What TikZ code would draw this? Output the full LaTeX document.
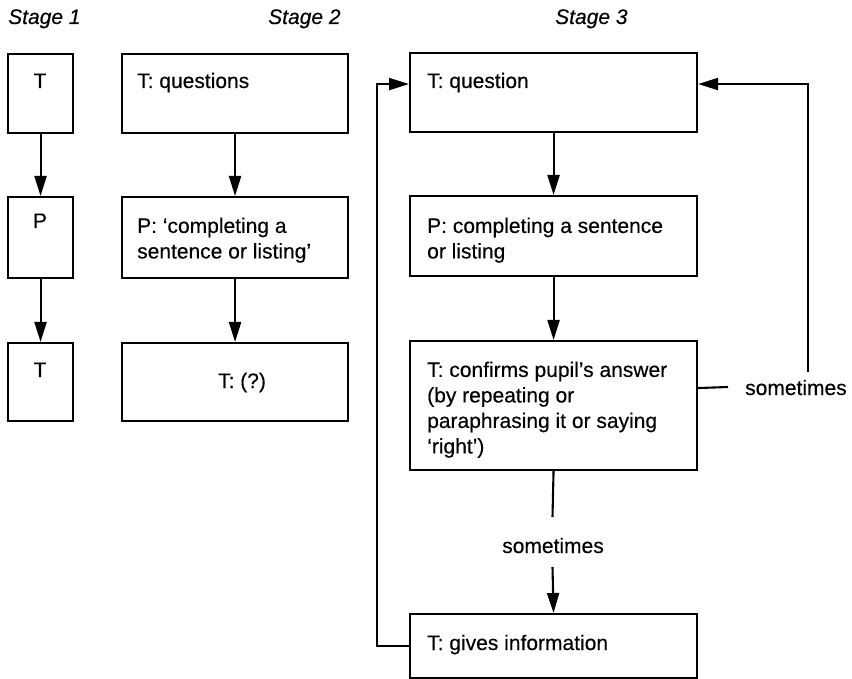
\documentclass[tikz,border=0pt]{standalone}
\usepackage{fontspec}
\setmainfont{Liberation Sans}[FakeBold=0.3]
\usetikzlibrary{arrows.meta}
\begin{document}
\begin{tikzpicture}[x=1pt,y=-1pt,
  box/.style={draw, line width=2.1pt, inner sep=0pt, anchor=north west},
  lbl/.style={inner sep=0pt, font=\fontsize{21}{25.5}\selectfont},
  stagelbl/.style={lbl, anchor=base west, font=\fontsize{21}{25.5}\selectfont\itshape},
  para/.style={lbl, anchor=north west, align=left},
  link/.style={line width=2.1pt},
  arr/.style={link, -{Triangle[length=20pt,width=12pt]}}]
\useasboundingbox (0,0) rectangle (852,679);

% stage headings
\node[stagelbl] (h1) at (8,24) {Stage 1};
\node[stagelbl] (h2) at (268,24) {Stage 2};
\node[stagelbl] (h3) at (555,24) {Stage 3};

% stage 1
\node[box, minimum width=65pt, minimum height=79pt] (a1) at (7,53) {};
\node[box, minimum width=65pt, minimum height=81pt] (a2) at (7,196) {};
\node[box, minimum width=65pt, minimum height=78pt] (a3) at (7,342) {};
\node[lbl, anchor=base] (a1t) at (40,88) {T};
\node[lbl, anchor=base] (a2t) at (40,228) {P};
\node[lbl, anchor=base] (a3t) at (40,377) {T};
\draw[arr] (a1.south) -- (a2.north);
\draw[arr] (a2.south) -- (a3.north);

% stage 2
\node[box, minimum width=226pt, minimum height=79pt] (b1) at (121,53) {};
\node[box, minimum width=226pt, minimum height=81pt] (b2) at (121,196) {};
\node[box, minimum width=226pt, minimum height=78pt] (b3) at (121,342) {};
\node[lbl, anchor=base west] (b1t) at (137,88) {T: questions};
\node[para] (b2t) at (137,217.5) {P: ‘completing a\\sentence or listing’};
\node[lbl, anchor=base] (b3t) at (242,388) {T: (?)};
\draw[arr] (b1.south) -- (b2.north);
\draw[arr] (b2.south) -- (b3.north);

% stage 3
\node[box, minimum width=287pt, minimum height=79pt] (q) at (409,52) {};
\node[box, minimum width=287pt, minimum height=80pt] (p) at (409,195) {};
\node[box, minimum width=287pt, minimum height=129pt] (c) at (409,340) {};
\node[box, minimum width=287pt, minimum height=64pt] (g) at (409,613) {};
\node[lbl, anchor=base west] (qt) at (427,88) {T: question};
\node[para] (pt) at (427,217.5) {P: completing a sentence\\or listing};
\node[para] (ct) at (427,361.5) {T: confirms pupil's answer\\(by repeating or\\paraphrasing it or saying\\‘right’)};
\node[lbl, anchor=base west] (gt) at (427,650) {T: gives information};
\draw[arr] (q.south) -- (p.north);
\draw[arr] (p.south) -- (c.north);

% conditional paths
\node[lbl, anchor=base] (sd) at (553,553) {sometimes};
\node[lbl, anchor=base west] (sr) at (745,395) {sometimes};
\coordinate (sdtop) at (552.5,517);
\coordinate (sdbot) at (552.5,567);
\coordinate (srend) at (728,387);
\coordinate (srup) at (808,372);
\draw[link] (c.south) -- (sdtop);
\draw[arr] (sdbot) -- (g.north);
\draw[link] ([yshift=17.5pt]c.east) -- (srend);
\draw[arr] (srup) |- ([yshift=8.5pt]q.east);
\draw[arr] (g.west) -- ++(-32,0) |- ([yshift=8.5pt]q.west);
\end{tikzpicture}
\end{document}
